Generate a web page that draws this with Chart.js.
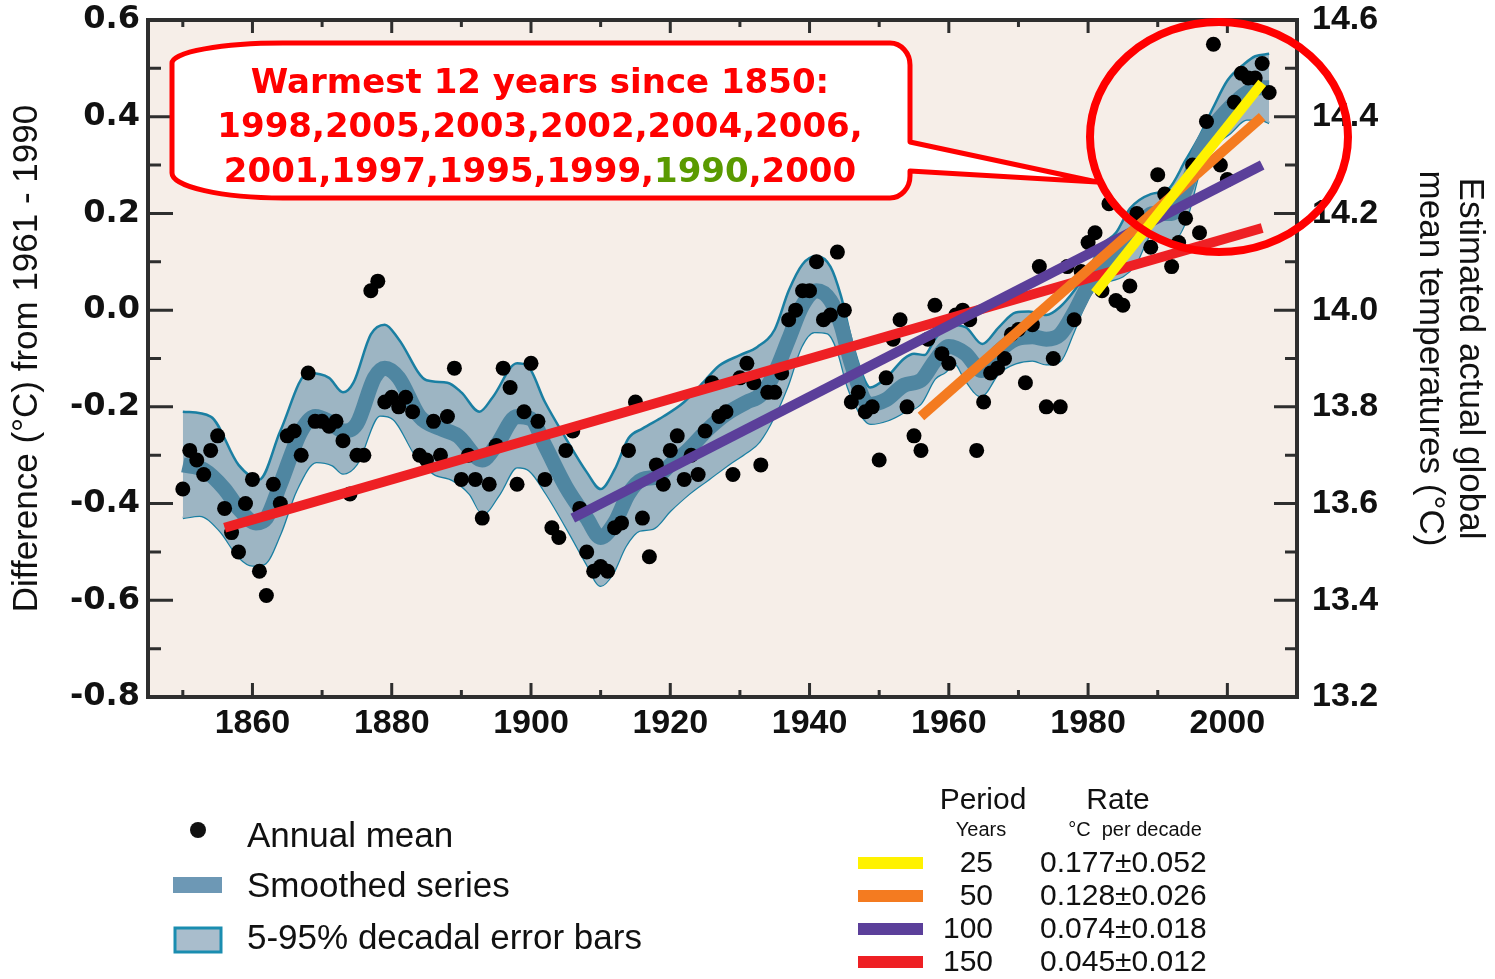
<!DOCTYPE html>
<html>
<head>
<meta charset="utf-8">
<script src="https://cdn.jsdelivr.net/npm/chart.js@4.4.1/dist/chart.umd.min.js"></script>
<style>
  html, body { margin: 0; padding: 0; background: #fff; }
  #wrap { width: 1495px; height: 979px; }
</style>
</head>
<body>
<div id="wrap"><canvas id="tempChart" width="1495" height="979"></canvas></div>
<script>
// annual global mean anomaly (degC from 1961-1990), one value per year from 1850
const firstYear = 1850;
const annualMean = [
  -0.37, -0.29, -0.31, -0.34, -0.29, -0.26, -0.41, -0.46, -0.50, -0.40,
  -0.35, -0.54, -0.59, -0.36, -0.40, -0.26, -0.25, -0.30, -0.13, -0.23,
  -0.23, -0.24, -0.23, -0.27, -0.38, -0.30, -0.30, 0.04, 0.06, -0.19,
  -0.18, -0.20, -0.18, -0.21, -0.30, -0.31, -0.23, -0.30, -0.22, -0.12,
  -0.35, -0.30, -0.35, -0.43, -0.36, -0.28, -0.12, -0.16, -0.36, -0.21,
  -0.11, -0.23, -0.35, -0.45, -0.47, -0.29, -0.25, -0.41, -0.50, -0.54,
  -0.53, -0.54, -0.45, -0.44, -0.29, -0.19, -0.43, -0.51, -0.32, -0.36,
  -0.29, -0.26, -0.35, -0.30, -0.34, -0.25, -0.15, -0.22, -0.21, -0.34,
  -0.14, -0.11, -0.15, -0.32, -0.17, -0.17, -0.13, -0.02, 0.00, 0.04,
  0.04, 0.10, -0.02, -0.01, 0.12, 0.00, -0.19, -0.17, -0.21, -0.20,
  -0.31, -0.14, -0.06, -0.02, -0.20, -0.26, -0.29, -0.06, 0.01, -0.09,
  -0.11, -0.01, 0.00, -0.02, -0.29, -0.19, -0.13, -0.12, -0.10, -0.05,
  -0.04, -0.15, -0.03, 0.09, -0.20, -0.10, -0.20, 0.09, -0.02, 0.08,
  0.14, 0.16, 0.04, 0.22, 0.02, 0.01, 0.05, 0.20, 0.18, 0.13,
  0.28, 0.24, 0.09, 0.14, 0.19, 0.30, 0.16, 0.39, 0.55, 0.30,
  0.27, 0.43, 0.49, 0.48, 0.48, 0.51, 0.45
];

// smoothed series
const smoothYears = [1850, 1853, 1856, 1858, 1860.5, 1862, 1864, 1867, 1869, 1871,
  1873, 1875, 1877.5, 1879, 1881, 1884, 1887, 1889.5, 1893, 1895,
  1898, 1900, 1902, 1905, 1908, 1910, 1912, 1914, 1916, 1918,
  1920, 1922.5, 1925.5, 1928, 1931, 1933, 1935, 1937, 1939, 1941,
  1943, 1944.5, 1946, 1948.5, 1951, 1953.6, 1956, 1958, 1960, 1962.4,
  1964.7, 1967.2, 1969.6, 1972, 1974, 1976, 1978, 1980, 1982, 1984,
  1986.5, 1989.3, 1992, 1994, 1996, 1998, 2000.4, 2002.8, 2004.7, 2006];
const smoothValues = [-0.32, -0.33, -0.37, -0.41, -0.44, -0.43, -0.36, -0.25, -0.22, -0.23,
  -0.25, -0.235, -0.14, -0.12, -0.14, -0.22, -0.245, -0.26, -0.31, -0.28,
  -0.22, -0.225, -0.28, -0.365, -0.43, -0.47, -0.44, -0.38, -0.35, -0.345,
  -0.32, -0.29, -0.245, -0.215, -0.19, -0.175, -0.13, -0.06, 0.01, 0.04,
  0.02, -0.03, -0.11, -0.195, -0.185, -0.155, -0.145, -0.105, -0.075, -0.09,
  -0.125, -0.085, -0.06, -0.055, -0.06, -0.05, -0.005, 0.05, 0.09, 0.11,
  0.15, 0.2, 0.2, 0.25, 0.33, 0.38, 0.42, 0.45, 0.46, 0.46];

// 5-95% decadal error band, upper edge
const bandHighYears = [1850, 1854, 1858, 1861, 1864, 1868, 1871, 1873, 1874.5, 1877,
  1879, 1881, 1885, 1888, 1890, 1892.6, 1894.5, 1898, 1899.5, 1902,
  1905, 1908, 1910, 1912, 1914, 1916, 1919, 1922, 1925, 1927,
  1930, 1932.5, 1935, 1937, 1939, 1941, 1943, 1944.5, 1946, 1947.5,
  1948.7, 1951, 1953.6, 1955, 1956.5, 1958, 1960, 1962.4, 1964.8, 1967.2,
  1969.6, 1971.5, 1974, 1976, 1978, 1980, 1982, 1984, 1986, 1989,
  1991.5, 1994, 1996, 1998, 2000, 2002.5, 2004, 2006];
const bandHighValues = [-0.21, -0.22, -0.32, -0.35, -0.25, -0.13, -0.14, -0.17, -0.15, -0.05,
  -0.03, -0.06, -0.145, -0.15, -0.17, -0.21, -0.18, -0.11, -0.115, -0.19,
  -0.265, -0.335, -0.37, -0.33, -0.265, -0.245, -0.22, -0.19, -0.145, -0.115,
  -0.093, -0.076, -0.04, 0.04, 0.095, 0.112, 0.09, 0.03, -0.06, -0.13,
  -0.16, -0.14, -0.10, -0.09, -0.093, -0.06, -0.03, -0.035, -0.07, -0.035,
  -0.005, -0.003, -0.01, 0.007, 0.04, 0.083, 0.135, 0.16, 0.21, 0.24,
  0.25, 0.31, 0.36, 0.42, 0.475, 0.51, 0.525, 0.53];

// lower edge
const bandLowYears = [1850, 1852.4, 1855.3, 1858, 1860, 1861.7, 1864, 1866.3, 1869.2, 1871.5,
  1873, 1875, 1878.3, 1880.2, 1883.6, 1886, 1888.8, 1891.2, 1893.1, 1895.5,
  1898, 1899.8, 1902.2, 1905.6, 1908, 1910, 1911.7, 1913.6, 1915.6, 1917.5,
  1920, 1922.7, 1925.6, 1928.5, 1931, 1932.8, 1934.9, 1936.8, 1938.8, 1940.7,
  1942.6, 1944, 1945.5, 1947, 1948.8, 1951.2, 1953.6, 1956, 1958, 1959.5,
  1960.8, 1962.4, 1964.6, 1967.2, 1969.6, 1972, 1974, 1976, 1977.8, 1979.5,
  1981, 1983, 1985, 1986.8, 1989.3, 1992.2, 1994.1, 1996.1, 1998, 2000.4,
  2002.8, 2004.7, 2006];
const bandLowValues = [-0.43, -0.425, -0.456, -0.51, -0.528, -0.525, -0.463, -0.373, -0.314, -0.321,
  -0.338, -0.318, -0.218, -0.225, -0.304, -0.338, -0.352, -0.38, -0.421, -0.38,
  -0.325, -0.332, -0.38, -0.463, -0.525, -0.57, -0.546, -0.488, -0.456, -0.452,
  -0.415, -0.38, -0.349, -0.318, -0.294, -0.272, -0.221, -0.159, -0.076, -0.045,
  -0.048, -0.083, -0.159, -0.207, -0.235, -0.228, -0.211, -0.193, -0.142, -0.128,
  -0.11, -0.145, -0.178, -0.13, -0.11, -0.104, -0.112, -0.105, -0.05, 0.01,
  0.045, 0.06, 0.07, 0.095, 0.159, 0.145, 0.187, 0.29, 0.338, 0.366,
  0.394, 0.394, 0.387];

// linear trends ending 2005
const trendPeriods = [25, 50, 100, 150];
const trendStartYears = [1981, 1956, 1906, 1856];
const trendEndYear = 2005;
const trendStartValues = [0.035, -0.22, -0.43, -0.45];
const trendEndValues = [0.47, 0.40, 0.30, 0.17];
const trendRates = ['0.177\u00b10.052', '0.128\u00b10.026', '0.074\u00b10.018', '0.045\u00b10.012'];
const trendColors = ['#fff200', '#f47b20', '#5b3f9a', '#ee2024'];

const xTickLabels = [1860, 1880, 1900, 1920, 1940, 1960, 1980, 2000];
const leftTicks = [-0.8, -0.6, -0.4, -0.2, 0.0, 0.2, 0.4, 0.6];
const rightTicks = [13.2, 13.4, 13.6, 13.8, 14.0, 14.2, 14.4, 14.6];

const calloutTitle = 'Warmest 12 years since 1850:';
const calloutLine2 = '1998,2005,2003,2002,2004,2006,';
const calloutLine3 = ['2001,1997,1995,1999,', '1990', ',2000'];

const pairs = (xs, ys) => xs.map((x, i) => ({x: x, y: ys[i]}));

const datasets = [];
datasets.push({
  data: pairs(bandHighYears, bandHighValues),
  borderColor: '#1a7fa2', borderWidth: 2.5, backgroundColor: '#9db5c3',
  fill: 1, pointRadius: 0, cubicInterpolationMode: 'monotone', order: 10
});
datasets.push({
  data: pairs(bandLowYears, bandLowValues),
  borderColor: '#1a7fa2', borderWidth: 2.5, fill: false,
  pointRadius: 0, cubicInterpolationMode: 'monotone', order: 10
});
datasets.push({
  data: pairs(smoothYears, smoothValues),
  borderColor: '#4f86a1', borderWidth: 15, fill: false, borderCapStyle: 'butt',
  pointRadius: 0, cubicInterpolationMode: 'monotone', order: 9
});
datasets.push({
  data: annualMean.map((v, i) => ({x: firstYear + i, y: v})),
  showLine: false, pointRadius: 7.5, pointBorderWidth: 0,
  pointBackgroundColor: '#000', order: 8
});
trendPeriods.forEach((p, i) => {
  datasets.push({
    data: [{x: trendStartYears[i], y: trendStartValues[i]}, {x: trendEndYear, y: trendEndValues[i]}],
    borderColor: trendColors[i], borderWidth: 10, borderCapStyle: 'butt',
    pointRadius: 0, fill: false, order: 1 + i
  });
});

const areaBg = {
  id: 'areaBg',
  beforeDraw(chart) {
    const {ctx, chartArea: a} = chart;
    ctx.save();
    ctx.fillStyle = '#f6eee8';
    ctx.fillRect(a.left, a.top, a.right - a.left, a.bottom - a.top);
    ctx.restore();
  }
};

function drawFrame(chart) {
  const {ctx, chartArea: a, scales} = chart;
  ctx.save();
  ctx.strokeStyle = '#2e2e2e';
  ctx.lineWidth = 3;
  ctx.beginPath();
  for (let t = -8; t <= 6; t++) {
    const py = scales.y.getPixelForValue(t / 10);
    const major = t % 2 === 0;
    ctx.moveTo(a.left, py); ctx.lineTo(a.left + (major ? 25 : 13), py);
    ctx.moveTo(a.right, py); ctx.lineTo(a.right - (major ? 23 : 12), py);
  }
  for (let yr = 1850; yr <= 2000; yr += 10) {
    const px = scales.x.getPixelForValue(yr);
    const major = yr % 20 === 0;
    ctx.moveTo(px, a.top); ctx.lineTo(px, a.top + (major ? 13 : 7));
    ctx.moveTo(px, a.bottom); ctx.lineTo(px, a.bottom - (major ? 14 : 7));
  }
  ctx.stroke();
  ctx.lineWidth = 4;
  ctx.strokeRect(a.left, a.top, a.right - a.left, a.bottom - a.top);
  ctx.restore();
}

function drawCallout(ctx) {
  ctx.save();
  ctx.beginPath();
  ctx.moveTo(283, 43);
  ctx.lineTo(890, 43);
  ctx.ellipse(890, 65, 20, 22, 0, -Math.PI / 2, 0);
  ctx.lineTo(910, 142);
  ctx.lineTo(1097, 182);
  ctx.lineTo(910, 171);
  ctx.lineTo(910, 176);
  ctx.ellipse(890, 176, 20, 22, 0, 0, Math.PI / 2);
  ctx.lineTo(283, 198);
  ctx.ellipse(283, 173, 111, 25, 0, Math.PI / 2, Math.PI);
  ctx.lineTo(172, 63);
  ctx.ellipse(283, 63, 111, 20, 0, Math.PI, Math.PI * 1.5);
  ctx.closePath();
  ctx.fillStyle = '#ffffff';
  ctx.fill();
  ctx.lineWidth = 5;
  ctx.lineJoin = 'round';
  ctx.strokeStyle = '#ff0000';
  ctx.stroke();

  ctx.font = 'bold 34px "Comic Sans MS", "DejaVu Sans", sans-serif';
  ctx.textBaseline = 'middle';
  ctx.textAlign = 'center';
  ctx.fillStyle = '#ff0000';
  ctx.fillText(calloutTitle, 540, 84);
  ctx.fillText(calloutLine2, 540, 128);
  // third line with the green 1990
  const widths = calloutLine3.map(s => ctx.measureText(s).width);
  let x = 540 - (widths[0] + widths[1] + widths[2]) / 2;
  ctx.textAlign = 'left';
  calloutLine3.forEach((s, i) => {
    ctx.fillStyle = i === 1 ? '#5a9a00' : '#ff0000';
    ctx.fillText(s, x, 173);
    x += widths[i];
  });

  // circle round the last years
  ctx.beginPath();
  ctx.ellipse(1219, 137, 129, 115, 0, 0, Math.PI * 2);
  ctx.lineWidth = 8;
  ctx.strokeStyle = '#ff0000';
  ctx.stroke();
  ctx.restore();
}

function drawLegend(ctx) {
  ctx.save();
  ctx.textBaseline = 'middle';
  ctx.fillStyle = '#111';
  ctx.font = '35px "Liberation Sans", Arial, sans-serif';
  ctx.beginPath();
  ctx.arc(198, 830, 8, 0, Math.PI * 2);
  ctx.fill();
  ctx.fillText('Annual mean', 247, 837);
  ctx.fillStyle = '#6d98b5';
  ctx.fillRect(173, 877, 49, 16);
  ctx.fillStyle = '#111';
  ctx.fillText('Smoothed series', 247, 887);
  ctx.fillStyle = '#a9bdcc';
  ctx.fillRect(175, 928, 46, 24);
  ctx.strokeStyle = '#1a8db0';
  ctx.lineWidth = 3;
  ctx.strokeRect(175, 928, 46, 24);
  ctx.fillStyle = '#111';
  ctx.fillText('5-95% decadal error bars', 247, 939);

  ctx.textAlign = 'center';
  ctx.font = '30px "Liberation Sans", Arial, sans-serif';
  ctx.fillText('Period', 983, 801);
  ctx.fillText('Rate', 1118, 801);
  ctx.font = '20px "Liberation Sans", Arial, sans-serif';
  ctx.fillText('Years', 981, 830);
  ctx.fillText('\u00b0C  per decade', 1135, 830);
  ctx.font = '30px "Liberation Sans", Arial, sans-serif';
  trendPeriods.forEach((p, i) => {
    const yy = 863 + i * 33;
    ctx.fillStyle = trendColors[i];
    ctx.fillRect(858, yy - 6, 65, 12);
    ctx.fillStyle = '#111';
    ctx.textAlign = 'right';
    ctx.fillText(String(p), 993, yy + 1);
    ctx.textAlign = 'left';
    ctx.fillText(trendRates[i], 1040, yy + 1);
  });
  ctx.restore();
}

const overlay = {
  id: 'overlay',
  afterDraw(chart) {
    drawFrame(chart);
    drawCallout(chart.ctx);
    drawLegend(chart.ctx);
  }
};

const noPad = s => { s.paddingTop = 0; s.paddingBottom = 0; };

new Chart(document.getElementById('tempChart'), {
  type: 'line',
  data: {datasets: datasets},
  options: {
    responsive: false,
    animation: false,
    devicePixelRatio: 1,
    layout: {padding: {top: 20, right: 0, bottom: 0, left: 0}},
    plugins: {legend: {display: false}, tooltip: {enabled: false}},
    scales: {
      x: {
        type: 'linear', min: 1845, max: 2010,
        grid: {display: false, drawTicks: false}, border: {display: false},
        ticks: {
          font: {family: '"Liberation Sans", Arial, sans-serif', size: 34, weight: 'bold'},
          color: '#111', padding: 6, maxRotation: 0, callback: v => String(v)
        },
        afterBuildTicks: s => { s.ticks = xTickLabels.map(v => ({value: v})); },
        afterFit: s => { s.height = 282; s.paddingLeft = 0; s.paddingRight = 0; }
      },
      y: {
        type: 'linear', position: 'left', min: -0.8, max: 0.6,
        grid: {display: false, drawTicks: false}, border: {display: false},
        ticks: {
          font: {family: '"DejaVu Sans", sans-serif', size: 32, weight: 'bold'},
          color: '#111', padding: 8, callback: v => Number(v).toFixed(1)
        },
        afterBuildTicks: s => { s.ticks = leftTicks.map(v => ({value: v})); },
        title: {
          display: true, text: 'Difference (\u00b0C) from 1961 - 1990', color: '#111',
          font: {family: '"Liberation Sans", Arial, sans-serif', size: 35},
          padding: {top: 6, bottom: 0}
        },
        afterFit: s => { s.width = 148; noPad(s); }
      },
      y2: {
        type: 'linear', position: 'right', min: 13.2, max: 14.6,
        grid: {display: false, drawTicks: false}, border: {display: false},
        ticks: {
          font: {family: '"Liberation Sans", Arial, sans-serif', size: 34, weight: 'bold'},
          color: '#111', padding: 15, callback: v => Number(v).toFixed(1)
        },
        afterBuildTicks: s => { s.ticks = rightTicks.map(v => ({value: v})); },
        title: {
          display: true, text: ['Estimated actual global', 'mean temperatures (\u00b0C)'], color: '#111',
          font: {family: '"Liberation Sans", Arial, sans-serif', size: 35, lineHeight: 1.15},
          padding: {top: 5, bottom: 0}
        },
        afterFit: s => { s.width = 198; noPad(s); }
      }
    }
  },
  plugins: [areaBg, overlay]
});
</script>
</body>
</html>
